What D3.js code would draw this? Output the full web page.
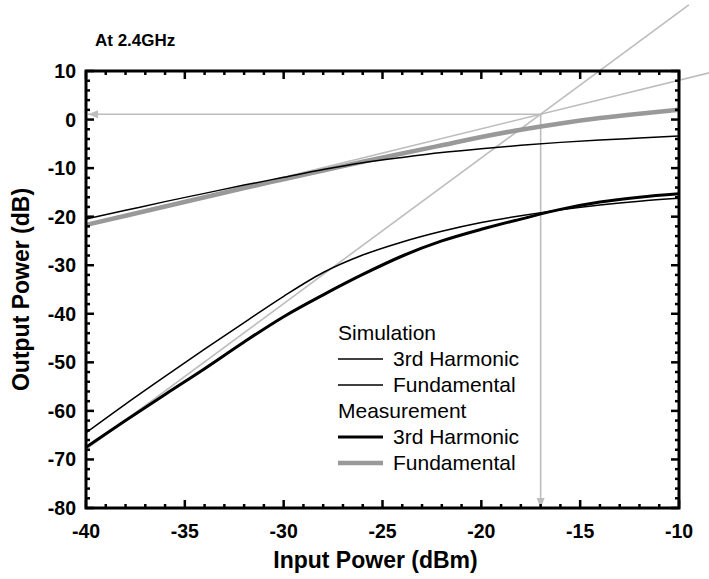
<!DOCTYPE html>
<html>
<head>
<meta charset="utf-8">
<script src="https://cdn.jsdelivr.net/npm/d3@7"></script>
<style>
  html, body { margin: 0; padding: 0; background: #fff; }
  svg { display: block; font-family: "Liberation Sans", Arial, sans-serif; }
</style>
</head>
<body>
<svg width="709" height="579"></svg>
<script>
// input power grid (dBm)
const inputPower = [-40, -38, -36, -34, -32, -30, -28, -26, -24, -22, -20, -18, -16, -14, -12, -10];

// simulation
const simFund  = [-20.5, -18.7, -16.9, -15.2, -13.5, -11.9, -10.3, -8.9, -7.8, -6.8, -6.0, -5.3, -4.7, -4.2, -3.8, -3.4];
const simThird = [-64.5, -58.6, -52.9, -47.3, -41.8, -36.4, -31.5, -27.9, -25.2, -23.0, -21.2, -19.8, -18.6, -17.6, -16.8, -16.2];

// measurement
const measFund  = [-21.7, -19.8, -17.9, -16.0, -14.1, -12.3, -10.5, -8.7, -7.0, -5.3, -3.6, -2.1, -0.8, 0.3, 1.2, 2.0];
const measThird = [-67.5, -62.0, -56.6, -51.3, -45.8, -40.6, -36.1, -31.9, -28.1, -25.0, -22.6, -20.5, -18.5, -17.0, -16.0, -15.3];

// intercept point (IIP3, OIP3) and extrapolation end
const iip3 = -17.0;
const oip3 = 1.1;
const extrapStart = -40;
const fundEnd = -8.45;
const thirdEnd = -9.5;

const xTicks = [-40, -35, -30, -25, -20, -15, -10];
const yTicks = [10, 0, -10, -20, -30, -40, -50, -60, -70, -80];

const GRAY = '#bdbdbd';

let svg = d3.select("svg");

const plotLeft = 86, plotRight = 679, plotTop = 71, plotBottom = 508;

const x = d3.scaleLinear().domain([-40, -10]).range([plotLeft, plotRight]);
const y = d3.scaleLinear().domain([-80, 10]).range([plotBottom, plotTop]);

// title
svg.append("text")
  .attr("x", 95).attr("y", 46)
  .attr("font-size", 17).attr("font-weight", "bold")
  .text("At 2.4GHz");

// arrow head marker
let defs = svg.append("defs");
defs.append("marker")
  .attr("id", "arr")
  .attr("viewBox", "0 0 10 10")
  .attr("refX", 10).attr("refY", 5)
  .attr("markerWidth", 10).attr("markerHeight", 10)
  .attr("markerUnits", "userSpaceOnUse")
  .attr("orient", "auto")
  .append("path")
  .attr("d", "M0,1 L10,5 L0,9 Z")
  .attr("fill", GRAY);

let line = d3.line()
  .x(d => x(d[0]))
  .y(d => y(d[1]))
  .curve(d3.curveMonotoneX);

// extrapolation lines (slope 1 and slope 3)
let lineStraight = d3.line().x(d => x(d[0])).y(d => y(d[1]));
svg.append("path")
  .attr("d", lineStraight([[extrapStart, oip3 + (extrapStart - iip3)], [fundEnd, oip3 + (fundEnd - iip3)]]))
  .attr("stroke", GRAY).attr("stroke-width", 1.6).attr("fill", "none");
svg.append("path")
  .attr("d", lineStraight([[extrapStart, oip3 + 3 * (extrapStart - iip3)], [thirdEnd, oip3 + 3 * (thirdEnd - iip3)]]))
  .attr("stroke", GRAY).attr("stroke-width", 1.6).attr("fill", "none");

// arrows from intercept to axes
svg.append("path")
  .attr("d", lineStraight([[iip3, oip3], [-40, oip3]]))
  .attr("transform", "translate(2,0)")
  .attr("stroke", GRAY).attr("stroke-width", 1.6).attr("fill", "none")
  .attr("marker-end", "url(#arr)");
svg.append("path")
  .attr("d", lineStraight([[iip3, oip3], [iip3, -80]]))
  .attr("stroke", GRAY).attr("stroke-width", 1.6).attr("fill", "none")
  .attr("marker-end", "url(#arr)");

// data curves
const series = [
  { vals: measFund,  stroke: '#999999', width: 4.5 },
  { vals: simFund,   stroke: '#000',    width: 1.5 },
  { vals: measThird, stroke: '#000',    width: 3 },
  { vals: simThird,  stroke: '#000',    width: 1.5 }
];
series.forEach(s => {
  svg.append("path")
    .attr("d", line(inputPower.map((p, i) => [p, s.vals[i]])))
    .attr("stroke", s.stroke)
    .attr("stroke-width", s.width)
    .attr("fill", "none");
});

// frame with inward ticks on all sides
let frame = svg.append("g");
const xMinor = d3.range(-40, -9, 1);
const yMinor = d3.range(-80, 11, 2);

frame.selectAll(".xt").data(xMinor).enter().append("g").each(function(v) {
  let major = v % 5 === 0;
  let len = major ? 8 : 4;
  d3.select(this).append("line")
    .attr("x1", x(v)).attr("x2", x(v)).attr("y1", plotBottom).attr("y2", plotBottom - len);
  d3.select(this).append("line")
    .attr("x1", x(v)).attr("x2", x(v)).attr("y1", plotTop).attr("y2", plotTop + len);
});
frame.selectAll(".yt").data(yMinor).enter().append("g").each(function(v) {
  let major = v % 10 === 0;
  let len = major ? 8 : 4;
  d3.select(this).append("line")
    .attr("x1", plotLeft).attr("x2", plotLeft + len).attr("y1", y(v)).attr("y2", y(v));
  d3.select(this).append("line")
    .attr("x1", plotRight).attr("x2", plotRight - len).attr("y1", y(v)).attr("y2", y(v));
});
frame.selectAll("line").attr("stroke", "#000").attr("stroke-width", 2.5);

frame.append("rect")
  .attr("x", plotLeft).attr("y", plotTop)
  .attr("width", plotRight - plotLeft).attr("height", plotBottom - plotTop)
  .attr("fill", "none").attr("stroke", "#000").attr("stroke-width", 3);

// tick labels
svg.selectAll(".xl").data(xTicks).enter().append("text")
  .attr("x", d => x(d)).attr("y", plotBottom + 30)
  .attr("text-anchor", "middle")
  .attr("font-size", 19.5).attr("font-weight", "bold")
  .text(d => d);

svg.selectAll(".yl").data(yTicks).enter().append("text")
  .attr("x", plotLeft - 10).attr("y", d => y(d) + 7)
  .attr("text-anchor", "end")
  .attr("font-size", 19.5).attr("font-weight", "bold")
  .text(d => d);

// axis titles
svg.append("text")
  .attr("x", (plotLeft + plotRight) / 2 - 7).attr("y", 568)
  .attr("text-anchor", "middle")
  .attr("font-size", 23).attr("font-weight", "bold")
  .text("Input Power (dBm)");

svg.append("text")
  .attr("transform", "translate(29," + ((plotTop + plotBottom) / 2) + ") rotate(-90)")
  .attr("text-anchor", "middle")
  .attr("font-size", 23).attr("font-weight", "bold")
  .text("Output Power (dB)");

// legend
const legendRows = [
  { label: "Simulation", head: true },
  { label: "3rd Harmonic", stroke: '#000', width: 1.5 },
  { label: "Fundamental", stroke: '#000', width: 1.5 },
  { label: "Measurement", head: true },
  { label: "3rd Harmonic", stroke: '#000', width: 3 },
  { label: "Fundamental", stroke: '#999999', width: 4.5 }
];
let legend = svg.append("g").attr("transform", "translate(338,333)");
legendRows.forEach((r, i) => {
  let yy = i * 26;
  if (r.head) {
    legend.append("text").attr("x", 0).attr("y", yy + 7)
      .attr("font-size", 21).text(r.label);
  } else {
    legend.append("line")
      .attr("x1", 0).attr("x2", 45).attr("y1", yy).attr("y2", yy)
      .attr("stroke", r.stroke).attr("stroke-width", r.width);
    legend.append("text").attr("x", 55).attr("y", yy + 7)
      .attr("font-size", 21).text(r.label);
  }
});
</script>
</body>
</html>
